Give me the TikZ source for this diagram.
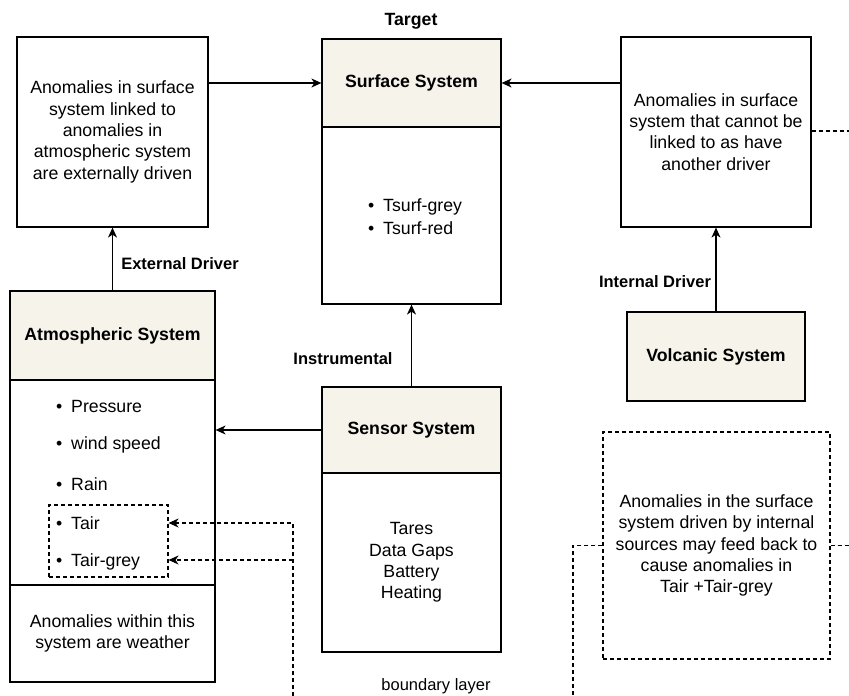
\documentclass[tikz,border=0pt]{standalone}
\usepackage{fontspec}
\setmainfont{Liberation Sans}
\usetikzlibrary{arrows.meta}
\definecolor{beige}{RGB}{246,243,234}
\newcommand{\fs}{\fontsize{17.7}{21.3}\selectfont}
\newcommand{\fsl}{\fontsize{16.5}{20}\selectfont}
\begin{document}
\begin{tikzpicture}[x=1pt,y=-1pt,
  box/.style={draw=black,line width=1.2pt,rectangle,inner sep=0pt,align=center,font=\fs},
  hdr/.style={box,fill=beige,font=\fs\bfseries},
  lbl/.style={inner sep=0pt,font=\fsl\bfseries},
  txt/.style={inner sep=0pt,font=\fsl,align=center},
  itm/.style={inner sep=0pt,anchor=west,font=\fs},
  arr/.style={line width=1.2pt,-{Stealth[length=10pt,width=9pt,inset=3pt]}},
  dsh/.style={line width=1.1pt,dash pattern=on 4pt off 3pt},
  darr/.style={dsh,-{Stealth[length=10pt,width=9pt,inset=3pt]}}]
\useasboundingbox (0,0) rectangle (849,696);
% boxes
\node[box,minimum width=191pt,minimum height=190pt] (leftbox) at (112.5,132) {Anomalies in surface\\system linked to\\anomalies in\\atmospheric system\\are externally driven};
\node[hdr,minimum width=179pt,minimum height=88pt] (surfh) at (411.5,83) {Surface System};
\node[box,minimum width=179pt,minimum height=177pt] (surfb) at (411.5,215.5) {};
\node[box,minimum width=190pt,minimum height=190pt] (rightbox) at (716,132) {Anomalies in surface\\system that cannot be\\linked to as have\\another driver};
\node[hdr,minimum width=205pt,minimum height=89pt] (atmh) at (112.5,335.5) {Atmospheric System};
\node[box,minimum width=205pt,minimum height=205pt] (atmb) at (112.5,482.5) {};
\node[box,minimum width=205pt,minimum height=97pt] (atmw) at (112.5,633.5) {Anomalies within this\\system are weather};
\node[hdr,minimum width=179pt,minimum height=86pt] (senh) at (411.5,430) {Sensor System};
\node[box,minimum width=179pt,minimum height=179pt] (senb) at (411.5,562.5) {Tares\\Data Gaps\\Battery\\Heating};
\node[hdr,minimum width=178pt,minimum height=89pt] (volc) at (716,356.5) {Volcanic System};
\node[box,dsh,minimum width=227pt,minimum height=227pt] (dbox) at (716.5,545.5) {Anomalies in the surface\\system driven by internal\\sources may feed back to\\cause anomalies in\\Tair +Tair-grey};
\node[box,dsh,minimum width=119pt,minimum height=72pt] (tairbox) at (108.5,541) {};
% list items
\node[itm] (ts1) at (368,207) {\textbullet\enspace Tsurf-grey};
\node[itm] (ts2) at (368,228) {\textbullet\enspace Tsurf-red};
\node[itm] (p1) at (56,406) {\textbullet\enspace Pressure};
\node[itm] (p2) at (56,445) {\textbullet\enspace wind speed};
\node[itm] (p3) at (56,484) {\textbullet\enspace Rain};
\node[itm] (p4) at (56,523) {\textbullet\enspace Tair};
\node[itm] (p5) at (56,562) {\textbullet\enspace Tair-grey};
% labels
\node[lbl,font=\fs\bfseries] (target) at (411,21) {Target};
\node[lbl] (ext) at (180,264) {External Driver};
\node[lbl] (instr) at (343,359) {Instrumental};
\node[lbl] (intd) at (655,282) {Internal Driver};
\node[txt] (bl) at (436,686) {boundary layer};
% arrows
\draw[arr] (leftbox.east |- surfh.west) -- (surfh.west);
\draw[arr] (rightbox.west |- surfh.east) -- (surfh.east);
\draw[arr] (atmh.north) -- (leftbox.south);
\draw[arr] (senh.north) -- (surfb.south);
\draw[arr] (senh.west) -- (atmb.east |- senh.west);
\draw[arr] (volc.north) -- (rightbox.south);
% dashed connectors
\coordinate (e1) at (849,131);
\coordinate (e2) at (849,545.5);
\coordinate (e3) at (573,696);
\coordinate (b1) at (293,696);
\coordinate (j1) at (293,560);
\draw[dsh] (rightbox.east |- e1) -- (e1);
\draw[dsh] (dbox.east) -- (e2);
\draw[dsh] (dbox.west) -| (e3);
\draw[darr] (b1) |- (tairbox.east |- p4);
\draw[darr] (j1) -- (tairbox.east |- j1);
\end{tikzpicture}
\end{document}
